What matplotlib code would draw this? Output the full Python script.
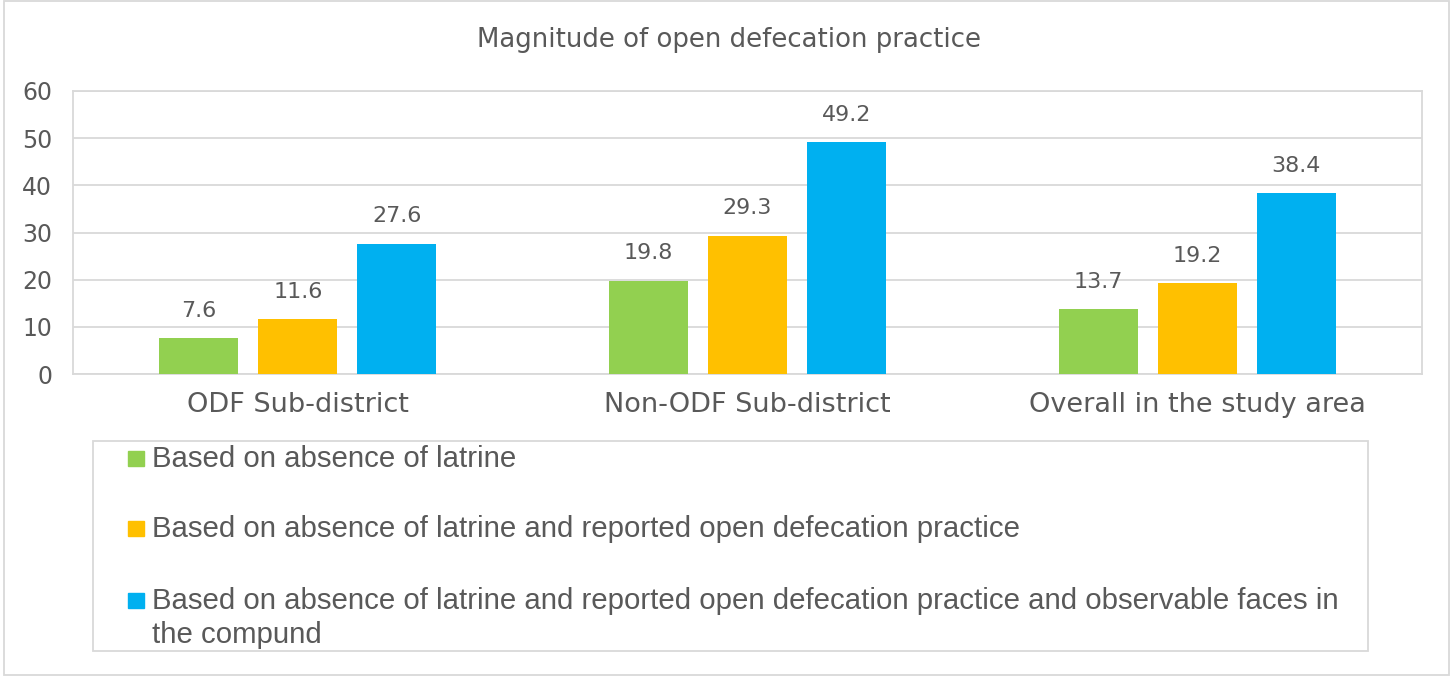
import matplotlib.pyplot as plt
import matplotlib.patches as mpatches
import numpy as np

categories = ['ODF Sub-district', 'Non-ODF Sub-district', 'Overall in the study area']
series_names = ['Based on absence of latrine',
                'Based on absence of latrine and reported open defecation practice',
                'Based on absence of latrine and reported open defecation practice and observable faces in\nthe compund']
latrine = [7.6, 19.8, 13.7]
latrine_reported = [11.6, 29.3, 19.2]
latrine_reported_faces = [27.6, 49.2, 38.4]
yticks = [0, 10, 20, 30, 40, 50, 60]

colors = ['#92d050', '#ffc000', '#00b0f0']
txt = '#595959'
grid_c = '#d9d9d9'

W, H = 1453, 677
fig = plt.figure(figsize=(W/100, H/100), dpi=100)
ax = fig.add_axes([73/W, 1-374/H, (1422-73)/W, (374-91)/H])

x = np.arange(len(categories))
w = 0.176
step = 0.22
series = [latrine, latrine_reported, latrine_reported_faces]
for i, vals in enumerate(series):
    bars = ax.bar(x + (i-1)*step, vals, w, color=colors[i], zorder=3)
    for b, v in zip(bars, vals):
        ax.annotate(f'{v}', (b.get_x()+b.get_width()/2, v), xytext=(0, 12.5),
                    textcoords='offset points', ha='center', va='bottom',
                    fontsize=16, color=txt)

ax.set_xlim(-0.5, 2.5)
ax.set_ylim(0, 60)
ax.set_yticks(yticks)
ax.set_xticks(x)
ax.set_xticklabels(categories, fontsize=19.5)
ax.tick_params(axis='both', length=0, colors=txt)
ax.tick_params(axis='y', labelsize=17, pad=15)
ax.tick_params(axis='x', pad=13)
ax.grid(axis='y', color=grid_c, linewidth=1.3, zorder=0)
for s in ax.spines.values():
    s.set_color(grid_c)
    s.set_linewidth(1.3)

fig.text(729/W, 1-40/H, 'Magnitude of open defecation practice', ha='center',
         va='center', fontsize=18.7, color=txt)

# legend drawn by hand
lg = mpatches.Rectangle((93/W, 1-651/H), (1368-93)/W, (651-441)/H,
                        transform=fig.transFigure, fill=False, edgecolor=grid_c, lw=1.3)
fig.patches.append(lg)
baselines = [467, 537, 609]
for i, name in enumerate(series_names):
    sq = mpatches.Rectangle((128/W, 1-(baselines[i]-1)/H), 16/W, 15/H,
                            transform=fig.transFigure, color=colors[i])
    fig.patches.append(sq)
    for k, line in enumerate(name.split('\n')):
        fig.text(152/W, 1-(baselines[i]+34*k)/H, line, ha='left', va='baseline',
                 fontsize=21.2, color=txt, family='Liberation Sans')

# outer frame
frame = mpatches.Rectangle((4/W, 2/H), 1445/W, 674/H, transform=fig.transFigure,
                           fill=False, edgecolor=grid_c, lw=1.3)
fig.patches.append(frame)

fig.savefig('out.png', dpi=100)
